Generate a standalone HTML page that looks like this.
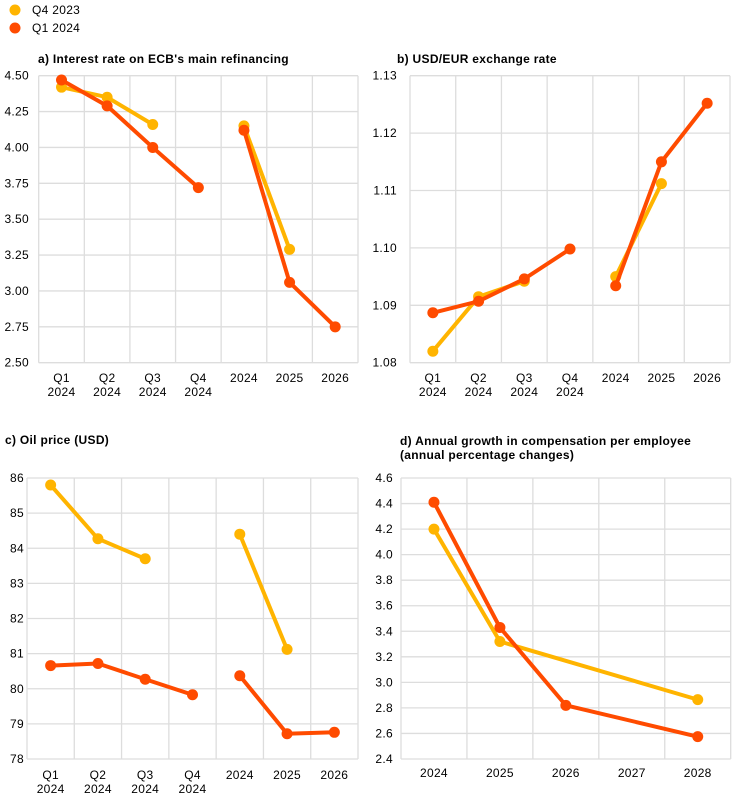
<!DOCTYPE html>
<html><head><meta charset="utf-8"><style>
body{margin:0;background:#fff;width:744px;height:804px;overflow:hidden}
svg{font-family:"Liberation Sans",Arial,sans-serif;letter-spacing:0.3px}
</style></head><body>
<svg id="s" width="744" height="804" xmlns="http://www.w3.org/2000/svg"></svg>
<script>
const Y='#FFB400',O='#FF4B00';
let h='';
h+=`<circle cx="15" cy="10" r="5.5" fill="${Y}"/><text x="32" y="14" font-size="12">Q4 2023</text>`;
h+=`<circle cx="15" cy="28" r="5.5" fill="${O}"/><text x="32" y="32" font-size="12">Q1 2024</text>`;
function panel(o){
  const {x0,x1,y0,y1,n,min,max,step,dec,labels,ly,series,lx}=o;
  const cw=(x1-x0)/n;
  const py=v=>y1-(v-min)/(max-min)*(y1-y0);
  for(let i=0;i<=n;i++){const x=x0+i*cw;h+=`<line x1="${x}" y1="${y0}" x2="${x}" y2="${y1}" stroke="#ddd" stroke-width="1.3"/>`;}
  for(let v=min;v<=max+1e-9;v+=step){const y=py(v);h+=`<line x1="${x0}" y1="${y}" x2="${x1}" y2="${y}" stroke="#ddd" stroke-width="1.3"/>`;
    h+=`<text x="${lx}" y="${y+4}" font-size="12" text-anchor="end">${v.toFixed(dec)}</text>`;}
  labels.forEach((l,i)=>{const x=x0+(i+.5)*cw;l.split('|').forEach((t,j)=>{h+=`<text x="${x}" y="${ly+j*14}" font-size="12" text-anchor="middle">${t}</text>`;});});
  series.forEach(([c,segs])=>{segs.forEach(seg=>{
    const pts=seg.map(([i,v])=>[x0+(i+.5)*cw,py(v)]);
    h+=`<polyline points="${pts.map(p=>p.join(',')).join(' ')}" fill="none" stroke="${c}" stroke-width="4"/>`;
    pts.forEach(p=>{h+=`<circle cx="${p[0]}" cy="${p[1]}" r="5.5" fill="${c}"/>`;});
  });});
}
const ql=['Q1|2024','Q2|2024','Q3|2024','Q4|2024','2024','2025','2026'];
h+=`<text x="38" y="63" font-size="12" font-weight="bold">a) Interest rate on ECB's main refinancing</text>`;
panel({x0:38.7,x1:358,y0:75.7,y1:362.7,n:7,min:2.5,max:4.5,step:0.25,dec:2,labels:ql,ly:382,lx:29,
 series:[[Y,[[[0,4.42],[1,4.35],[2,4.16]],[[4,4.15],[5,3.29]]]],[O,[[[0,4.47],[1,4.29],[2,4.0],[3,3.72]],[[4,4.12],[5,3.06],[6,2.75]]]]]});
h+=`<text x="397" y="63" font-size="12" font-weight="bold">b) USD/EUR exchange rate</text>`;
panel({x0:410,x1:730,y0:75.7,y1:362.7,n:7,min:1.08,max:1.13,step:0.01,dec:2,labels:ql,ly:382,lx:397,
 series:[[Y,[[[0,1.082],[1,1.0915],[2,1.0942]],[[4,1.095],[5,1.1112]]]],[O,[[[0,1.0887],[1,1.0907],[2,1.0946],[3,1.0998]],[[4,1.0934],[5,1.115],[6,1.1252]]]]]});
h+=`<text x="5" y="444" font-size="12" font-weight="bold">c) Oil price (USD)</text>`;
panel({x0:27,x1:358,y0:478,y1:759,n:7,min:78,max:86,step:1,dec:0,labels:ql,ly:779,lx:24,
 series:[[Y,[[[0,85.8],[1,84.27],[2,83.7]],[[4,84.4],[5,81.12]]]],[O,[[[0,80.66],[1,80.72],[2,80.27],[3,79.83]],[[4,80.37],[5,78.72],[6,78.76]]]]]});
h+=`<text x="400" y="445" font-size="12" font-weight="bold">d) Annual growth in compensation per employee</text>`;
h+=`<text x="400" y="459" font-size="12" font-weight="bold">(annual percentage changes)</text>`;
panel({x0:401,x1:730.7,y0:478,y1:759,n:5,min:2.4,max:4.6,step:0.2,dec:1,labels:['2024','2025','2026','2027','2028'],ly:777,lx:393,
 series:[[Y,[[[0,4.2],[1,3.32],[4,2.865]]]],[O,[[[0,4.41],[1,3.43],[2,2.82],[4,2.575]]]]]});
document.getElementById('s').innerHTML=h;
</script>
</body></html>
